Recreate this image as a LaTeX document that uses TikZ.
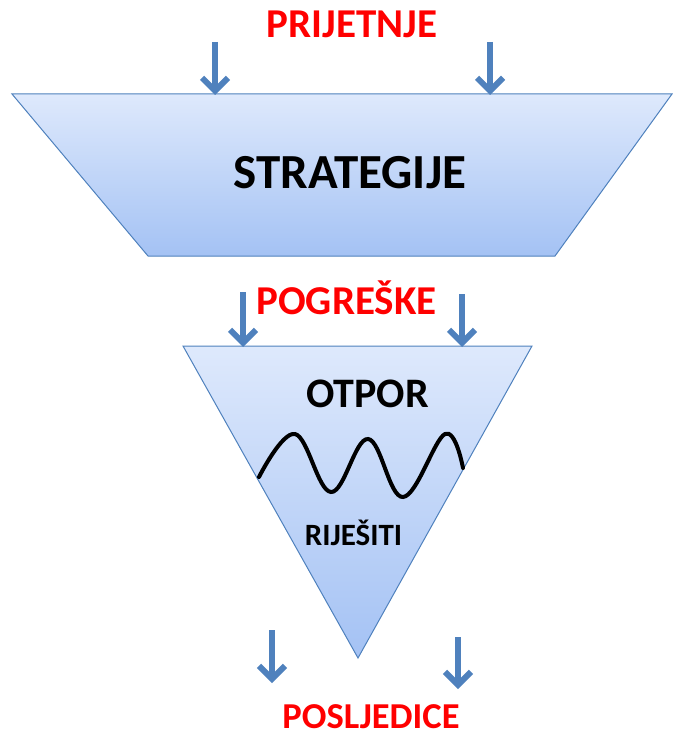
\documentclass[tikz,border=0pt]{standalone}
\usepackage{fontspec}
\setmainfont{Carlito}
\usetikzlibrary{arrows.meta}
\definecolor{arrowblue}{RGB}{79,129,189}
\definecolor{shapetop}{RGB}{222,233,252}
\definecolor{shapebot}{RGB}{164,194,244}
\definecolor{labelred}{RGB}{255,0,0}
\tikzset{
  downarrow/.style={draw=arrowblue, line width=6pt, -{Straight Barb[length=13pt,width=26pt,line width=6pt]}},
  funnel/.style={draw=arrowblue, line width=1pt, top color=shapetop, bottom color=shapebot},
  redlabel/.style={text=labelred, anchor=base, inner sep=0pt},
  blacklabel/.style={text=black, anchor=base, inner sep=0pt},
}
\begin{document}
\begin{tikzpicture}[x=1pt,y=-1pt]
\useasboundingbox (0,0) rectangle (675,738);
% shapes
\draw[funnel] (12,94) -- (672,94) -- (555,256) -- (148,256) -- cycle;
\draw[funnel] (183,346) -- (532,346) -- (358,658) -- cycle;
% labels
\node[redlabel, font=\bfseries\fontsize{41}{45}\selectfont] (prijetnje) at (352,38) {PRIJETNJE};
\node[blacklabel, font=\bfseries\fontsize{49}{54}\selectfont] (strategije) at (350,189) {STRATEGIJE};
\node[redlabel, font=\bfseries\fontsize{41}{45}\selectfont] (pogreske) at (346.5,314) {POGREŠKE};
\node[blacklabel, font=\bfseries\fontsize{42}{46}\selectfont] (otpor) at (367.5,407) {OTPOR};
\node[blacklabel, font=\bfseries\fontsize{31}{34}\selectfont] (rijesiti) at (353.5,545) {RIJEŠITI};
\node[redlabel, font=\bfseries\fontsize{36.5}{40}\selectfont] (posljedice) at (371,728) {POSLJEDICE};
% arrow endpoints
\coordinate (a1s) at (215,42); \coordinate (a1e) at (215,95);
\coordinate (a2s) at (490,42); \coordinate (a2e) at (490,95);
\coordinate (b1s) at (243,292); \coordinate (b1e) at (243,347);
\coordinate (b2s) at (462,294); \coordinate (b2e) at (462,347);
\coordinate (c1s) at (272,630); \coordinate (c1e) at (272,683);
\coordinate (c2s) at (458,637); \coordinate (c2e) at (458,689);
\draw[downarrow] (a1s) -- (a1e);
\draw[downarrow] (a2s) -- (a2e);
\draw[downarrow] (b1s) -- (b1e);
\draw[downarrow] (b2s) -- (b2e);
\draw[downarrow] (c1s) -- (c1e);
\draw[downarrow] (c2s) -- (c2e);
% wave
\draw[line width=4pt, line cap=round] plot[smooth, tension=0.65] coordinates {(259,477) (295,434) (331,492) (368,439) (403,497) (445,434) (463,468)};
\end{tikzpicture}
\end{document}
